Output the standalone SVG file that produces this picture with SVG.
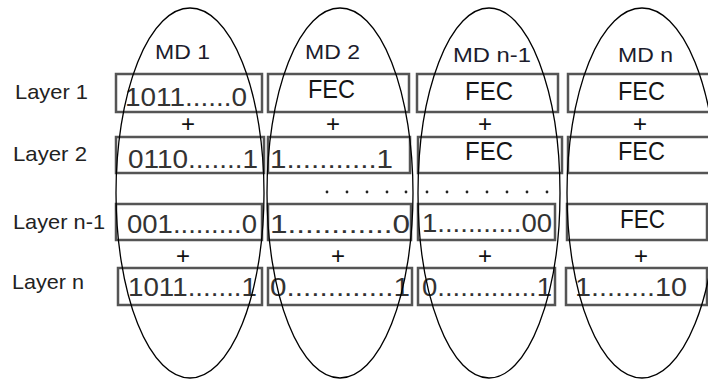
<svg xmlns="http://www.w3.org/2000/svg" width="708" height="380" viewBox="0 0 708 380">
<style>
.box{fill:#fff;stroke:#555;stroke-width:2.5}
.md{fill:none;stroke:#000;stroke-width:1.3}
.lbl{font-family:"Liberation Sans",Arial,sans-serif;font-size:21px;fill:#222}
.mdl{font-family:"Liberation Sans",Arial,sans-serif;font-size:20px;fill:#1c1c2c}
.num{font-family:"Liberation Sans",Arial,sans-serif;font-size:25px;fill:#333}
.fec{font-family:"Liberation Sans",Arial,sans-serif;font-size:26px;fill:#151515}
.plus{font-family:"Liberation Sans",Arial,sans-serif;font-size:24px;fill:#111;text-anchor:middle}
.dot{fill:#222}
</style>
<rect width="708" height="380" fill="#fff"/>
<g id="labels">
<text class="lbl" x="15" y="99" textLength="73" lengthAdjust="spacingAndGlyphs">Layer 1</text>
<text class="lbl" x="13" y="161" textLength="74" lengthAdjust="spacingAndGlyphs">Layer 2</text>
<text class="lbl" x="13" y="229" textLength="92" lengthAdjust="spacingAndGlyphs">Layer n-1</text>
<text class="lbl" x="12" y="289" textLength="72" lengthAdjust="spacingAndGlyphs">Layer n</text>
</g>
<g id="row1">
<rect class="box" x="116" y="74" width="146" height="38"/>
<rect class="box" x="268" y="74" width="141" height="38"/>
<rect class="box" x="417" y="74" width="141" height="38"/>
<rect class="box" x="568" y="74" width="144" height="38"/>
<text class="num" x="125" y="106" textLength="122" lengthAdjust="spacingAndGlyphs">1011......0</text>
<text class="fec" x="308" y="98" textLength="47" lengthAdjust="spacingAndGlyphs">FEC</text>
<text class="fec" x="465" y="100" textLength="48" lengthAdjust="spacingAndGlyphs">FEC</text>
<text class="fec" x="618" y="100" textLength="47" lengthAdjust="spacingAndGlyphs">FEC</text>
</g>
<g id="plus1">
<text class="plus" x="188" y="132">+</text>
<text class="plus" x="333" y="132">+</text>
<text class="plus" x="485" y="132">+</text>
<text class="plus" x="640" y="132">+</text>
</g>
<g id="row2">
<rect class="box" x="116" y="137" width="148" height="36"/>
<rect class="box" x="268" y="137" width="142" height="36"/>
<rect class="box" x="418" y="137" width="144" height="36"/>
<rect class="box" x="568" y="137" width="144" height="36"/>
<text class="num" x="128" y="168" textLength="130" lengthAdjust="spacingAndGlyphs">0110.......1</text>
<text class="num" x="270" y="168" textLength="123" lengthAdjust="spacingAndGlyphs">1...........1</text>
<text class="fec" x="465" y="160" textLength="48" lengthAdjust="spacingAndGlyphs">FEC</text>
<text class="fec" x="618" y="160" textLength="47" lengthAdjust="spacingAndGlyphs">FEC</text>
</g>
<g id="dots">
<circle class="dot" cx="327" cy="192" r="1.4"/>
<circle class="dot" cx="347" cy="192" r="1.4"/>
<circle class="dot" cx="367" cy="192" r="1.4"/>
<circle class="dot" cx="387" cy="192" r="1.4"/>
<circle class="dot" cx="406" cy="192" r="1.4"/>
<circle class="dot" cx="427" cy="192" r="1.4"/>
<circle class="dot" cx="447" cy="192" r="1.4"/>
<circle class="dot" cx="467" cy="192" r="1.4"/>
<circle class="dot" cx="487" cy="192" r="1.4"/>
<circle class="dot" cx="507" cy="192" r="1.4"/>
<circle class="dot" cx="527" cy="192" r="1.4"/>
<circle class="dot" cx="547" cy="192" r="1.4"/>
</g>
<g id="row3">
<rect class="box" x="116" y="204" width="146" height="36"/>
<rect class="box" x="268" y="204" width="143" height="36"/>
<rect class="box" x="418" y="204" width="137" height="36"/>
<rect class="box" x="567" y="204" width="140" height="36"/>
<text class="num" x="127" y="233" textLength="130" lengthAdjust="spacingAndGlyphs">001.........0</text>
<text class="num" x="270" y="233" textLength="140" lengthAdjust="spacingAndGlyphs">1............0</text>
<text class="num" x="422" y="232" textLength="130" lengthAdjust="spacingAndGlyphs">1...........00</text>
<text class="fec" x="620" y="228" textLength="45" lengthAdjust="spacingAndGlyphs">FEC</text>
</g>
<g id="plus2">
<text class="plus" x="183" y="264">+</text>
<text class="plus" x="338" y="264">+</text>
<text class="plus" x="485" y="264">+</text>
<text class="plus" x="641" y="264">+</text>
</g>
<g id="row4">
<rect class="box" x="118" y="268" width="144" height="37"/>
<rect class="box" x="268" y="268" width="144" height="37"/>
<rect class="box" x="418" y="268" width="137" height="37"/>
<rect class="box" x="566" y="268" width="141" height="37"/>
<text class="num" x="128" y="296" textLength="129" lengthAdjust="spacingAndGlyphs">1011.......1</text>
<text class="num" x="270" y="296" textLength="140" lengthAdjust="spacingAndGlyphs">0.............1</text>
<text class="num" x="422" y="296" textLength="130" lengthAdjust="spacingAndGlyphs">0.............1</text>
<text class="num" x="575" y="296" textLength="112" lengthAdjust="spacingAndGlyphs">1........10</text>
</g>
<g id="md1">
<ellipse class="md" cx="190" cy="193" rx="74" ry="185"/>
<text class="mdl" x="155" y="59" textLength="55" lengthAdjust="spacingAndGlyphs">MD 1</text>
</g>
<g id="md2">
<ellipse class="md" cx="340" cy="193" rx="73" ry="185"/>
<text class="mdl" x="305" y="59" textLength="55" lengthAdjust="spacingAndGlyphs">MD 2</text>
</g>
<g id="mdn1">
<ellipse class="md" cx="489" cy="193" rx="71" ry="185"/>
<text class="mdl" x="453" y="62" textLength="78" lengthAdjust="spacingAndGlyphs">MD n-1</text>
</g>
<g id="mdn">
<ellipse class="md" cx="642" cy="193" rx="75" ry="185"/>
<text class="mdl" x="618" y="62" textLength="55" lengthAdjust="spacingAndGlyphs">MD n</text>
</g>
</svg>
